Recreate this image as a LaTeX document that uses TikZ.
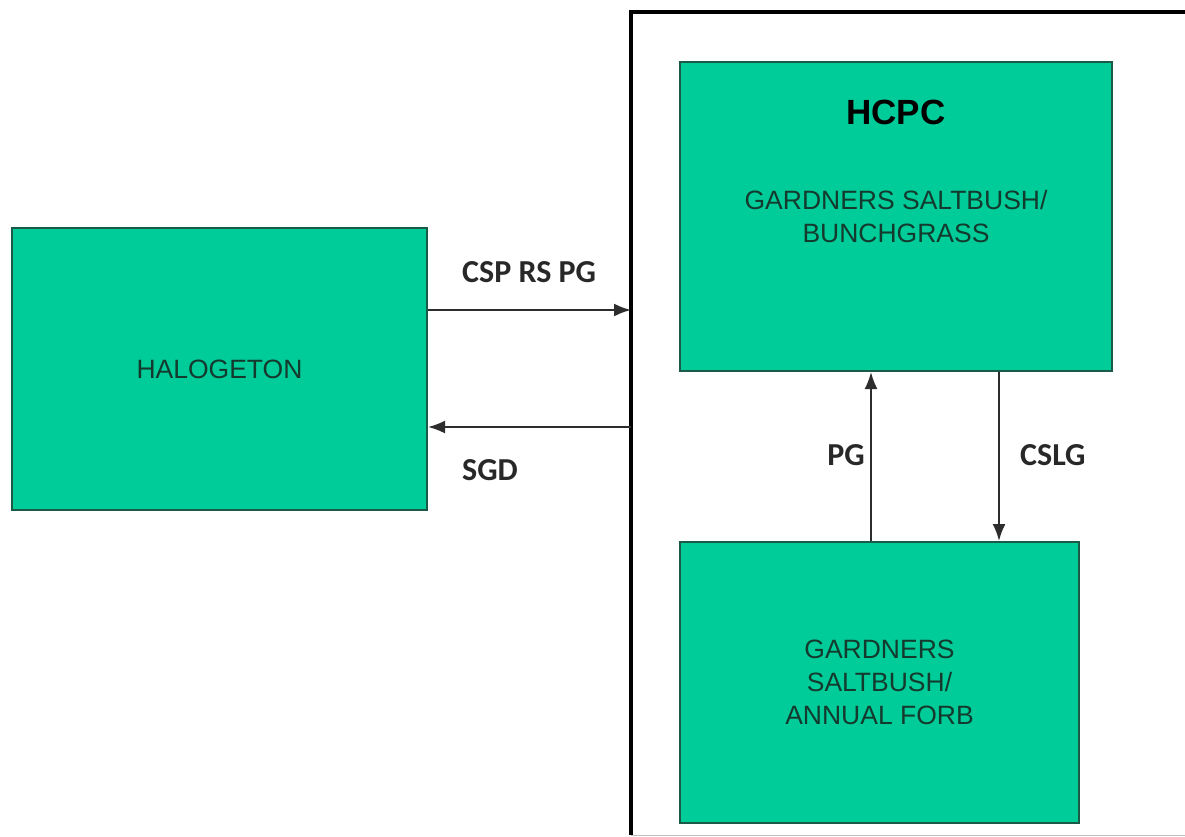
\documentclass[tikz,border=0pt]{standalone}
\usepackage{fontspec}
\setmainfont{Liberation Sans}
\newfontfamily\lblfont{Carlito}
\usetikzlibrary{arrows.meta,calc}
\definecolor{boxgreen}{RGB}{0,204,153}
\definecolor{boxline}{RGB}{26,90,70}
\definecolor{boxtext}{RGB}{20,58,46}
\definecolor{arrcol}{RGB}{45,45,45}
\definecolor{lblcol}{RGB}{40,40,40}
\tikzset{
  gbox/.style={draw=boxline, line width=2pt, fill=boxgreen, inner sep=0pt, text=boxtext,
    align=center, font=\fontsize{26.5}{33}\selectfont},
  arr/.style={draw=arrcol, line width=2pt, -{Latex[length=17pt,width=13pt]}},
  lbl/.style={text=lblcol, font=\lblfont\bfseries\fontsize{32}{36}\selectfont, inner sep=0pt},
  frameline/.style={draw=black, line width=4.5pt}
}
\begin{document}
\begin{tikzpicture}[x=1pt,y=-1pt]
\useasboundingbox (0,0) rectangle (1185,837);
\fill[white] (0,0) rectangle (1185,837);

% outer frame (open on the right)
\node[inner sep=0pt, minimum width=570pt, minimum height=823pt, anchor=north west] (frame) at (631,12) {};
\draw[frameline] (frame.south west) -- (frame.north west) -- (frame.north east);
\draw[black!25, line width=1.5pt] (frame.south west) -- (frame.south east);

% boxes
\node[gbox, minimum width=415pt, minimum height=282pt] (halo) at (219.5,369) {HALOGETON};
\node[gbox, minimum width=432pt, minimum height=309pt] (hcpc) at (896,216.5) {GARDNERS SALTBUSH/\\BUNCHGRASS};
\node[font=\bfseries\fontsize{35}{40}\selectfont, text=black, inner sep=0pt] (hcpct) at ($(hcpc.north)+(0,51)$) {HCPC};
\node[gbox, minimum width=399pt, minimum height=281pt] (annual) at (879.5,682.5) {GARDNERS\\SALTBUSH/\\ANNUAL FORB};

% connector end points
\coordinate (h1) at ($(halo.north east)+(0,83)$);
\coordinate (h2) at ($(halo.north east)+(0,200)$);
\coordinate (u1) at ($(annual.north west)+(192,0)$);
\coordinate (d1) at ($(hcpc.south west)+(320,0)$);

\draw[arr] (h1) -- (frame.west |- h1);
\draw[arr] (frame.west |- h2) -- (h2);
\draw[arr] (u1) -- (u1 |- hcpc.south);
\draw[arr] (d1) -- (d1 |- annual.north);

% labels
\node[lbl, anchor=west] (l1) at (462,272) {CSP RS PG};
\node[lbl, anchor=west] (l2) at (462,470) {SGD};
\node[lbl, anchor=east] (l3) at (865,455) {PG};
\node[lbl, anchor=west] (l4) at (1020,455) {CSLG};
\end{tikzpicture}
\end{document}
